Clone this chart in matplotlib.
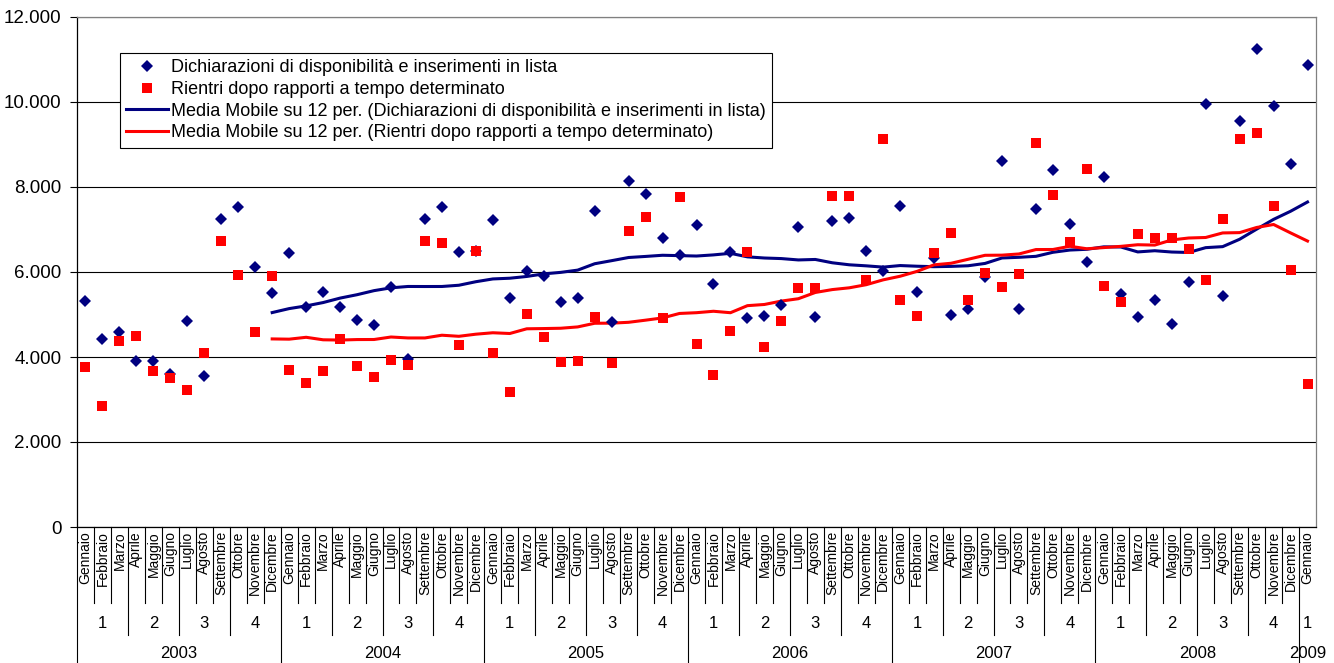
import numpy as np
import pandas as pd
import matplotlib
matplotlib.use('Agg')
import matplotlib.pyplot as plt
import matplotlib.transforms as mtransforms
from matplotlib.ticker import FuncFormatter, MultipleLocator

plt.rcParams['font.family'] = ['Liberation Sans', 'DejaVu Sans']

month_names = ['Gennaio', 'Febbraio', 'Marzo', 'Aprile', 'Maggio', 'Giugno',
               'Luglio', 'Agosto', 'Settembre', 'Ottobre', 'Novembre', 'Dicembre']
years = ['2003', '2004', '2005', '2006', '2007', '2008', '2009']
quarters = ['1', '2', '3', '4']

dichiarazioni = [
    5320, 4420, 4580, 3915, 3900, 3600, 4850, 3560, 7255, 7520, 6120, 5505,   # 2003
    6440, 5185, 5520, 5175, 4860, 4745, 5645, 3945, 7240, 7530, 6470, 6500,   # 2004
    7225, 5390, 6015, 5905, 5285, 5380, 7445, 4815, 8135, 7830, 6800, 6395,   # 2005
    7115, 5710, 6460, 4910, 4955, 5220, 7060, 4950, 7200, 7260, 6505, 6035,   # 2006
    7555, 5520, 6330, 4995, 5130, 5880, 8600, 5140, 7475, 8400, 7140, 6245,   # 2007
    8245, 5480, 4940, 5330, 4765, 5755, 9960, 5425, 9560, 11245, 9905, 8535,  # 2008
    10865,                                                                    # 2009
]
rientri = [
    3765, 2850, 4385, 4490, 3660, 3505, 3215, 4085, 6730, 5920, 4595, 5905,
    3695, 3380, 3680, 4415, 3800, 3520, 3920, 3820, 6730, 6690, 4290, 6500,
    4100, 3170, 5010, 4480, 3890, 3895, 4950, 3850, 6975, 7290, 4925, 7760,
    4315, 3575, 4600, 6470, 4225, 4855, 5615, 5615, 7790, 7790, 5805, 9130,
    5335, 4955, 6445, 6910, 5340, 5985, 5655, 5955, 9030, 7810, 6715, 8425,
    5670, 5300, 6905, 6810, 6790, 6535, 5800, 7240, 9120, 9260, 7560, 6055,
    3365,
]

labels = ['Dichiarazioni di disponibilità e inserimenti in lista',
          'Rientri dopo rapporti a tempo determinato',
          'Media Mobile su 12 per. (Dichiarazioni di disponibilità e inserimenti in lista)',
          'Media Mobile su 12 per. (Rientri dopo rapporti a tempo determinato)']

n = len(dichiarazioni)
x = np.arange(n)
month_lbl = [month_names[i % 12] for i in range(n)]
year_idx = [i // 12 for i in range(n)]
quarter_idx = [(i % 12) // 3 for i in range(n)]

ma_d = pd.Series(dichiarazioni).rolling(12).mean()
ma_r = pd.Series(rientri).rolling(12).mean()

W, H = 1334, 663
fig = plt.figure(figsize=(W / 100, H / 100), dpi=100)
ax = fig.add_axes([77 / W, 136 / H, 1239 / W, 510 / H])

navy = '#000080'
red = '#FF0000'
ax.plot(x, dichiarazioni, ls='none', marker='D', ms=6.0, color=navy, mew=0, zorder=4, label=labels[0])
ax.plot(x, rientri, ls='none', marker='s', ms=7.6, color=red, mew=0, zorder=5, label=labels[1])
ax.plot(x, ma_d, color=navy, lw=2.2, zorder=3, label=labels[2])
ax.plot(x, ma_r, color=red, lw=2.2, zorder=3, label=labels[3])

ax.set_xlim(-0.5, n - 0.5)
ax.set_ylim(0, 12000)
ax.yaxis.set_major_locator(MultipleLocator(2000))
ax.yaxis.set_major_formatter(FuncFormatter(lambda v, p: f'{int(v):,}'.replace(',', '.')))
ax.grid(axis='y', color='black', lw=0.8)
ax.set_axisbelow(True)
ax.tick_params(axis='y', length=5, width=0.8, pad=6, labelsize=13.5, color='black')

ax.set_xticks(x)
ax.set_xticklabels(month_lbl, rotation=90, fontsize=10, va='top', ha='center')
ax.tick_params(axis='x', length=0, pad=3)

for s in ['left', 'bottom']:
    ax.spines[s].set_color('black')
    ax.spines[s].set_linewidth(0.9)
for s in ['top', 'right']:
    ax.spines[s].set_color('#808080')
    ax.spines[s].set_linewidth(0.9)

trans = mtransforms.blended_transform_factory(ax.transData, ax.transAxes)
ax_h = 510.0
len_month = 76 / ax_h
len_quarter = 108 / ax_h
len_year = 136 / ax_h

for i in range(n):
    b = i - 0.5
    if i == 0 or year_idx[i] != year_idx[i - 1]:
        L = len_year
    elif quarter_idx[i] != quarter_idx[i - 1]:
        L = len_quarter
    else:
        L = len_month
    ax.plot([b, b], [0, -L], transform=trans, clip_on=False, color='black', lw=0.8)

# quarter labels
groups_q = {}
for i in range(n):
    groups_q.setdefault((year_idx[i], quarter_idx[i]), []).append(i)
for (yi, qi), idxs in groups_q.items():
    ax.text(np.mean(idxs), -97 / ax_h, quarters[qi], transform=trans, ha='center', va='center',
            fontsize=12, clip_on=False)

groups_y = {}
for i in range(n):
    groups_y.setdefault(year_idx[i], []).append(i)
for yi, idxs in groups_y.items():
    ax.text(np.mean(idxs), -126 / ax_h, years[yi], transform=trans, ha='center', va='center',
            fontsize=12, clip_on=False)

leg = ax.legend(loc='upper left', bbox_to_anchor=(43 / 1239, (527 - 53) / ax_h), frameon=True,
                fancybox=False, edgecolor='black', framealpha=1, borderaxespad=0,
                handlelength=2.3, handletextpad=0.15, labelspacing=0.26, borderpad=0.35,
                fontsize=13, numpoints=1)
leg.get_frame().set_linewidth(0.8)

fig.savefig('out.png', dpi=100)
